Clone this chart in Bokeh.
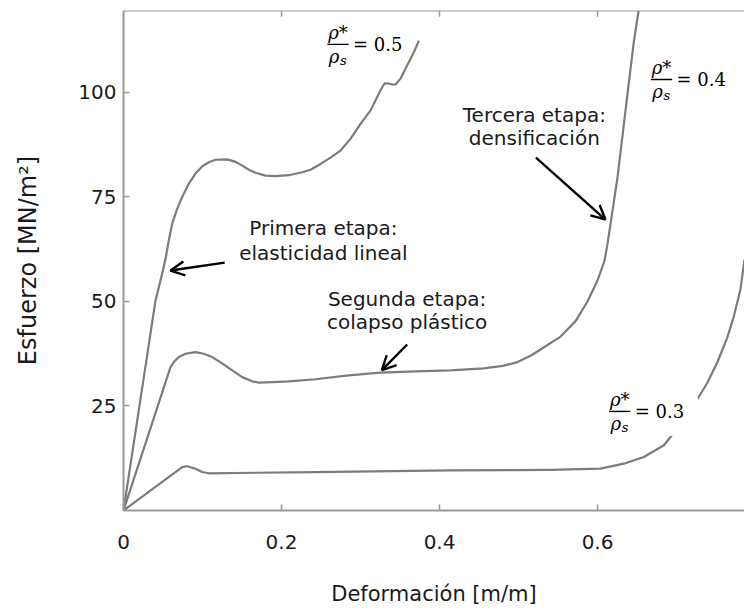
from bokeh.plotting import figure
from bokeh.models import Range1d, FixedTicker, Label, Arrow, OpenHead, Span
from bokeh.embed import file_html
from bokeh.resources import INLINE

# Stress-strain curves of foams for three relative densities
strain_05 = [0, 0.0405, 0.0447, 0.0489, 0.0532, 0.0573, 0.0616, 0.0680, 0.0743, 0.0827,
             0.0911, 0.0996, 0.1080, 0.1165, 0.1313, 0.1420, 0.1503, 0.1587, 0.1671,
             0.1797, 0.1924, 0.2093, 0.2262, 0.2367, 0.2494, 0.2620, 0.2747, 0.2873,
             0.3000, 0.3127, 0.3211, 0.3275, 0.3304, 0.3346, 0.3401, 0.3443, 0.3506,
             0.3591, 0.3675, 0.3738]
stress_05 = [0, 50.2, 53.4, 56.6, 60.2, 64.6, 68.6, 72.2, 75.0, 78.2,
             80.6, 82.3, 83.3, 83.9, 84.0, 83.4, 82.5, 81.5, 80.8,
             80.1, 80.0, 80.2, 80.9, 81.5, 82.9, 84.4, 86.1, 88.9,
             92.5, 95.7, 98.9, 101.3, 102.1, 102.2, 101.9, 101.9, 103.3,
             106.5, 109.6, 112.4]

strain_04 = [0, 0.0595, 0.0637, 0.0700, 0.0785, 0.0911, 0.1016, 0.1123, 0.1249, 0.1376,
             0.1503, 0.1629, 0.1713, 0.1882, 0.2092, 0.2430, 0.2848, 0.3253, 0.3700,
             0.4139, 0.4557, 0.4800, 0.4987, 0.5170, 0.5342, 0.5532, 0.5722, 0.5873,
             0.5999, 0.6089, 0.6127, 0.6165, 0.6253, 0.6380, 0.6456, 0.6520]
stress_04 = [0, 34.3, 35.5, 36.7, 37.5, 37.9, 37.5, 36.7, 35.2, 33.5,
             31.9, 30.9, 30.6, 30.7, 30.9, 31.4, 32.3, 33.0, 33.3,
             33.5, 34.0, 34.6, 35.5, 37.2, 39.3, 41.6, 45.3, 50.0,
             55.0, 59.8, 63.9, 68.7, 79.7, 99.8, 111.7, 119.6]

strain_03 = [0, 0.0743, 0.0806, 0.0911, 0.0996, 0.1080, 0.2430, 0.4139, 0.5405, 0.6038,
             0.6333, 0.6586, 0.6840, 0.6966, 0.7262, 0.7389, 0.7515, 0.7641, 0.7726,
             0.7810, 0.7860]
stress_03 = [0, 10.4, 10.6, 10.0, 9.2, 8.9, 9.2, 9.6, 9.7, 10.0,
             11.2, 12.8, 15.6, 18.6, 26.6, 30.5, 35.4, 41.3, 46.5,
             53.0, 60.0]

x_ticks = [0, 0.2, 0.4, 0.6]
y_ticks = [25, 50, 75, 100]
X_MAX = 0.786
Y_MAX = 119.6

CURVE = "#7c7c7c"
FRAME = "#9a9a9a"
TEXT = "#1a1a1a"
SANS = "DejaVu Sans"
SERIF = "DejaVu Serif"

p = figure(width=744, height=613, output_backend="svg", toolbar_location=None,
           x_range=Range1d(0, X_MAX), y_range=Range1d(0, Y_MAX),
           min_border_left=123, min_border_right=0, min_border_top=10, min_border_bottom=103)
p.outline_line_color = None
p.grid.visible = False
p.background_fill_color = "white"
p.border_fill_color = "white"

for ax in (p.xaxis[0], p.yaxis[0]):
    ax.axis_line_color = FRAME
    ax.axis_line_width = 2
    ax.major_tick_line_color = FRAME
    ax.major_tick_line_width = 1.5
    ax.major_tick_in = 6
    ax.major_tick_out = 0
    ax.minor_tick_line_color = None
    ax.major_label_text_font = SANS
    ax.major_label_text_font_size = "20px"
    ax.major_label_text_color = TEXT
    ax.axis_label_text_font = SANS
    ax.axis_label_text_font_style = "normal"
    ax.axis_label_text_color = TEXT

p.xaxis.ticker = FixedTicker(ticks=x_ticks)
p.xaxis.major_label_standoff = 24
p.xaxis.axis_label = "Deformación [m/m]"
p.xaxis.axis_label_text_font_size = "21px"
p.xaxis.axis_label_standoff = 30

p.yaxis.ticker = FixedTicker(ticks=y_ticks)
p.yaxis.major_label_standoff = 7
p.yaxis.axis_label = "Esfuerzo [MN/m²]"
p.yaxis.axis_label_text_font_size = "24px"
p.yaxis.axis_label_standoff = 33

# top edge of the frame, with short inward ticks
p.add_layout(Span(location=Y_MAX, dimension="width", line_color=FRAME, line_width=2))
p.segment(x0=x_ticks[1:], x1=x_ticks[1:], y0=[Y_MAX] * 3, y1=[Y_MAX - 1.5] * 3,
          line_color=FRAME, line_width=1.5)

# curves
for xs, ys in ((strain_05, stress_05), (strain_04, stress_04), (strain_03, stress_03)):
    p.line(xs, ys, line_color=CURVE, line_width=2.2, line_join="round")

# white patch behind the 0.3 density label
p.quad(left=[0.612], right=[0.727], bottom=[17.8], top=[27.0],
       fill_color="white", line_color=None)


def density_label(xc, yc, value_text):
    """Fraction rho*/rho_s = value, with the bar centred at (xc, yc)."""
    p.segment(x0=[xc - 0.0135], x1=[xc + 0.0135], y0=[yc], y1=[yc],
              line_color="black", line_width=1.4)
    p.add_layout(Label(x=xc, y=yc, y_offset=1, text="ρ*", text_align="center",
                       text_baseline="bottom", text_font=SERIF, text_font_style="italic",
                       text_font_size="18px", text_color="black"))
    p.add_layout(Label(x=xc, y=yc, x_offset=-4, y_offset=-2, text="ρ", text_align="center",
                       text_baseline="top", text_font=SERIF, text_font_style="italic",
                       text_font_size="18px", text_color="black"))
    p.add_layout(Label(x=xc, y=yc, x_offset=2, y_offset=-9, text="s", text_align="left",
                       text_baseline="top", text_font=SERIF, text_font_style="italic",
                       text_font_size="13px", text_color="black"))
    p.add_layout(Label(x=xc, y=yc, x_offset=15, text=value_text, text_align="left",
                       text_baseline="middle", text_font=SERIF,
                       text_font_size="18px", text_color="black"))


density_label(0.2715, 111.5, "= 0.5")
density_label(0.681, 103.1, "= 0.4")
density_label(0.628, 23.7, "= 0.3")


def note(x, y1, y2, line1, line2):
    for yy, txt in ((y1, line1), (y2, line2)):
        p.add_layout(Label(x=x, y=yy, text=txt, text_align="center", text_baseline="middle",
                           text_font=SANS, text_font_size="20px", text_color=TEXT))


note(0.253, 67.5, 61.7, "Primera etapa:", "elasticidad lineal")
note(0.359, 50.7, 45.2, "Segunda etapa:", "colapso plástico")
note(0.520, 94.7, 89.0, "Tercera etapa:", "densificación")

for xs, ys, xe, ye in ((0.128, 59.3, 0.0595, 57.4),
                       (0.359, 39.7, 0.327, 33.6),
                       (0.522, 84.4, 0.610, 69.6)):
    p.add_layout(Arrow(end=OpenHead(size=14, line_width=2.4, line_color="black"),
                       x_start=xs, y_start=ys, x_end=xe, y_end=ye,
                       line_color="black", line_width=2.4))

open("out.html", "w").write(file_html(p, INLINE))
